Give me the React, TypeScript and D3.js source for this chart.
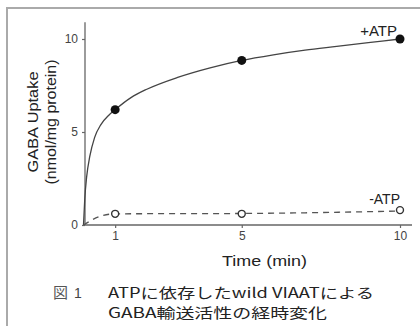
import { useEffect, useRef } from 'react';
import * as d3 from 'd3';

const W = 420;
const H = 326;

// measured times (min) and uptake (nmol/mg protein)
const times = [1, 5, 10];
const plusAtp = [6.2, 8.85, 10.0];
const minusAtp = [0.6, 0.6, 0.8];

// fitted curve
const fitT = [0, 0.04, 0.1, 0.2, 0.35, 0.55, 0.8, 1, 1.5, 2, 3, 4, 5, 6, 7, 8, 9, 10];
const fitV = [0, 1.4, 2.6, 3.7, 4.7, 5.4, 5.9, 6.2, 6.85, 7.3, 7.95, 8.45, 8.85, 9.15, 9.4, 9.6, 9.8, 10.0];

// dashed -ATP trace
const dashT = [0, 0.5, 1, 5, 10];
const dashV = [0, 0.45, 0.6, 0.62, 0.75];

const xTicks = [1, 5, 10];
const yTicks = [0, 5, 10];

const sans = "'Liberation Sans', Arial, Helvetica, sans-serif";
const jp = "'Noto Sans CJK JP', sans-serif";

const App = () => {
  const xAxisRef = useRef(null);
  const yAxisRef = useRef(null);

  const xScale = d3.scaleLinear().domain([0, 10]).range([83.5, 400]);
  const yScale = d3.scaleLinear().domain([0, 10]).range([225, 39]);

  useEffect(() => {
    const xg = d3.select(xAxisRef.current);
    xg.selectAll('*').remove();
    xg.call(d3.axisBottom(xScale).tickValues(xTicks).tickSize(3).tickPadding(3).tickSizeOuter(0));
    xg.select('.domain').attr('d', `M85,0H412`);
    const yg = d3.select(yAxisRef.current);
    yg.selectAll('*').remove();
    yg.call(d3.axisLeft(yScale).tickValues(yTicks).tickSize(3).tickPadding(4).tickSizeOuter(0));
    yg.select('.domain').attr('d', `M0,${yScale(10.9)}V${yScale(0)}`);
    [xg, yg].forEach((g) => {
      g.attr('font-family', sans).attr('font-size', 12);
      g.select('.domain').attr('stroke', '#666').attr('stroke-width', 1.3);
      g.selectAll('.tick line').attr('stroke', '#666').attr('stroke-width', 1.2);
      g.selectAll('.tick text').attr('fill', '#444');
    });
  }, []);

  const fitPath = d3
    .line<number>()
    .x((d, i) => xScale(fitT[i]))
    .y((d) => yScale(d))
    .curve(d3.curveMonotoneX)(fitV);

  const dashPath = d3
    .line<number>()
    .x((d, i) => xScale(dashT[i]))
    .y((d) => yScale(d))
    .curve(d3.curveMonotoneX)(dashV);

  return (
    <svg width={W} height={H} style={{ position: 'fixed', left: 0, top: 0 }}>
      <rect width={W} height={H} fill="#fff" />
      <path d="M7,326V8H420" fill="none" stroke="#aaa" strokeWidth={2} />

      <g ref={yAxisRef} transform="translate(85,0)" />
      <g ref={xAxisRef} transform="translate(0,225)" />

      <path d={fitPath || ''} fill="none" stroke="#444" strokeWidth={1.3} />
      <path d={dashPath || ''} fill="none" stroke="#555" strokeWidth={1.3} strokeDasharray="6,5" />

      {times.map((t, i) => (
        <circle key={'p' + i} cx={xScale(t)} cy={yScale(plusAtp[i])} r={4.5} fill="#111" />
      ))}
      {times.map((t, i) => (
        <circle
          key={'m' + i}
          cx={xScale(t)}
          cy={yScale(minusAtp[i])}
          r={3.5}
          fill="#fff"
          stroke="#333"
          strokeWidth={1.4}
        />
      ))}

      <text x={397} y={36} textAnchor="end" fontFamily={sans} fontSize={15} fill="#222">
        +ATP
      </text>
      <text x={400} y={204} textAnchor="end" fontFamily={sans} fontSize={14} fill="#222">
        -ATP
      </text>

      <g transform="translate(38,122) rotate(-90)">
        <text x={0} y={0} textAnchor="middle" fontFamily={sans} fontSize={14} fill="#222"
          textLength={101} lengthAdjust="spacingAndGlyphs">
          GABA Uptake
        </text>
      </g>
      <g transform="translate(56,122) rotate(-90)">
        <text x={0} y={0} textAnchor="middle" fontFamily={sans} fontSize={14} fill="#222"
          textLength={125} lengthAdjust="spacingAndGlyphs">
          (nmol/mg protein)
        </text>
      </g>

      <text x={222} y={266} fontFamily={sans} fontSize={15} fill="#222"
        textLength={85} lengthAdjust="spacingAndGlyphs">
        Time (min)
      </text>

      <text x={53} y={298} fontFamily={jp} fontSize={15} fill="#555">
        図
      </text>
      <text x={74} y={298} fontFamily={sans} fontSize={14} fill="#444">
        1
      </text>
      <text x={108} y={298} fontFamily={jp} fontSize={14} fill="#222"
        textLength={266} lengthAdjust="spacingAndGlyphs">
        ATPに依存したwild VIAATによる
      </text>
      <text x={108} y={318} fontFamily={jp} fontSize={14} fill="#222"
        textLength={219} lengthAdjust="spacingAndGlyphs">
        GABA輸送活性の経時変化
      </text>
    </svg>
  );
};

export default App;
